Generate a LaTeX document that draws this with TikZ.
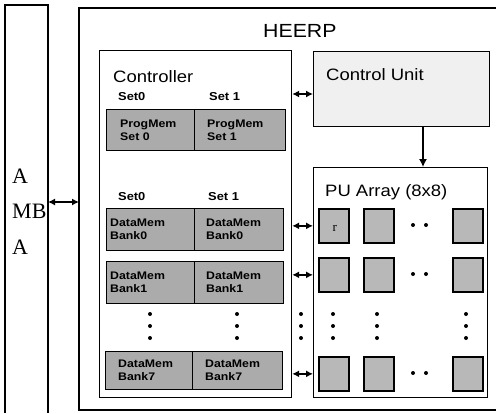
\documentclass[tikz,border=0pt]{standalone}
\usepackage{fontspec}
\setmainfont{Liberation Sans}[FakeStretch=1.12]
\newfontfamily\amfont{Liberation Serif}
\usetikzlibrary{arrows.meta}
\definecolor{memgray}{HTML}{ABABAB}
\definecolor{cellgray}{HTML}{B8B8B8}
\definecolor{cugray}{HTML}{F0F0F0}
\begin{document}
\begin{tikzpicture}[x=1pt,y=-1pt,
  frame/.style={draw, line width=1.2pt, inner sep=0pt, anchor=north west},
  mem/.style={draw, line width=1pt, fill=memgray, inner sep=0pt, anchor=north west},
  cell/.style={draw, line width=1.7pt, fill=cellgray, inner sep=0pt, anchor=north west, minimum width=30pt, minimum height=34pt},
  memtxt/.style={font=\bfseries\fontsize{11}{13}\selectfont, align=left, anchor=west, inner sep=0pt},
  lbl/.style={font=\fontsize{16.5}{18}\selectfont, anchor=base west, inner sep=0pt},
  setlbl/.style={font=\bfseries\fontsize{11.5}{13}\selectfont, anchor=base west, inner sep=0pt},
  amba/.style={font=\amfont\fontsize{22}{24}\selectfont, anchor=base west, inner sep=0pt},
  dbl/.style={{Latex[length=7pt,width=7pt]}-{Latex[length=7pt,width=7pt]}, line width=1.3pt},
  sgl/.style={-{Latex[length=8pt,width=8pt]}, line width=1.3pt},
  dot/.style={fill=black}
]
\useasboundingbox (0,0) rectangle (496,413);
% AMBA bus
\draw[line width=1.2pt] (5,413) -- (5,5) -- (48,5) -- (48,413);
\node[amba] (a1) at (12,183) {A};
\node[amba] (mb) at (12,218) {MB};
\node[amba] (a2) at (12,254) {A};
\coordinate (ambaR) at (48,202);
% HEERP frame
\draw[line width=1.2pt] (496,8) -- (79,8) -- (79,410) -- (496,410);
\coordinate (heerpL) at (79,202);
\node[font=\fontsize{19}{20}\selectfont, anchor=base west, inner sep=0pt] (heerp) at (263,37) {HEERP};
\draw[dbl] (ambaR) -- (heerpL);

% Controller
\node[frame, minimum width=192pt, minimum height=347pt] (ctrl) at (99,50) {};
\node[lbl] (ctrllbl) at (113,82) {Controller};
\node[setlbl] (s0a) at (118,100) {Set0};
\node[setlbl] (s1a) at (209,100) {Set 1};
\node[mem, minimum width=88pt, minimum height=41pt] (pm0) at (106,109) {};
\node[mem, minimum width=91pt, minimum height=41pt] (pm1) at (194,109) {};
\node[memtxt] (pm0t) at ([xshift=14pt]pm0.west) {ProgMem\\Set 0};
\node[memtxt] (pm1t) at ([xshift=13pt]pm1.west) {ProgMem\\Set 1};
\node[setlbl] (s0b) at (118,200) {Set0};
\node[setlbl] (s1b) at (208,200) {Set 1};
\node[mem, minimum width=88pt, minimum height=42pt] (d00) at (106,208) {};
\node[mem, minimum width=89pt, minimum height=42pt] (d01) at (194,208) {};
\node[memtxt] (d00t) at ([xshift=4pt]d00.west) {DataMem\\Bank0};
\node[memtxt] (d01t) at ([xshift=12pt]d01.west) {DataMem\\Bank0};
\node[mem, minimum width=88pt, minimum height=42pt] (d10) at (106,261) {};
\node[mem, minimum width=89pt, minimum height=42pt] (d11) at (194,261) {};
\node[memtxt] (d10t) at ([xshift=4pt]d10.west) {DataMem\\Bank1};
\node[memtxt] (d11t) at ([xshift=12pt]d11.west) {DataMem\\Bank1};
\node[mem, minimum width=87pt, minimum height=38pt] (d70) at (105,351) {};
\node[mem, minimum width=90pt, minimum height=38pt] (d71) at (192,351) {};
\node[memtxt] (d70t) at ([xshift=13pt]d70.west) {DataMem\\Bank7};
\node[memtxt] (d71t) at ([xshift=13pt]d71.west) {DataMem\\Bank7};
\foreach \y in {314,326,338} {
  \fill[dot] (150,\y) circle (2pt);
  \fill[dot] (237,\y) circle (2pt);
  \fill[dot] (301,\y) circle (2pt);
  \fill[dot] (333,\y) circle (2pt);
  \fill[dot] (377,\y) circle (2pt);
  \fill[dot] (466,\y) circle (2pt);
}

% Control Unit
\node[frame, fill=cugray, minimum width=176pt, minimum height=75pt] (cu) at (313,51) {};
\node[lbl] (culbl) at (326,80) {Control Unit};
\draw[dbl] (ctrl.east |- 0,94) -- (cu.west |- 0,94);

% PU Array
\node[frame, minimum width=174pt, minimum height=230pt] (pua) at (313,167) {};
\node[lbl] (pulbl) at (325,196) {PU Array (8x8)};
\draw[sgl] (cu.south -| 423,0) -- (pua.north -| 423,0);

\foreach \r/\y in {1/208,2/257,3/356} {
  \node[cell] (c\r a) at (318,\y) {};
  \node[cell] (c\r b) at (363,\y) {};
  \node[cell] (c\r c) at (452,\y) {};
  \fill[dot] (413,\y+17) circle (2pt);
  \fill[dot] (426,\y+17) circle (2pt);
  \draw[dbl] (ctrl.east |- c\r a) -- (pua.west |- c\r a);
}
\node[font=\amfont\fontsize{13}{14}\selectfont, inner sep=0pt] (rlbl) at ([xshift=1pt,yshift=-3pt]c1a.center) {r};
\end{tikzpicture}
\end{document}
